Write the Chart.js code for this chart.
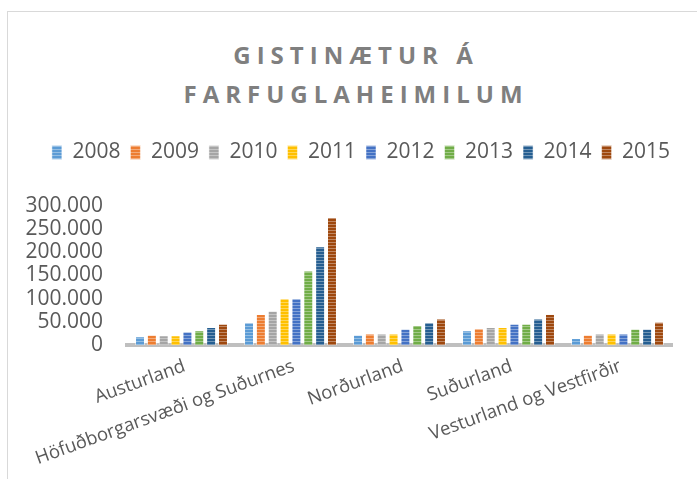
<!DOCTYPE html>
<html>
<head>
<meta charset="utf-8">
<script src="https://cdn.jsdelivr.net/npm/chart.js@4"></script>
<style>
  html, body { margin: 0; padding: 0; background: #fff; }
  #wrap { position: relative; width: 697px; height: 479px; overflow: hidden; }
  #frame { position: absolute; left: 7px; top: 11px; right: -5px; bottom: -5px; border-left: 1px solid #d9d9d9; border-top: 1px solid #d9d9d9; }
  #title { position: absolute; left: 0; width: 712px; top: 35px; text-align: center; font: bold 24px "Open Sans", sans-serif; letter-spacing: 6px; color: #7f7f7f; line-height: 39px; }
  canvas { position: absolute; left: 0; top: 0; }
</style>
</head>
<body>
<div id="wrap">
  <div id="frame"></div>
  <div id="title">GISTINÆTUR Á<br>FARFUGLAHEIMILUM</div>
  <canvas id="chart" width="697" height="479"></canvas>
</div>
<script>
const regions = ['Austurland', 'Höfuðborgarsvæði og Suðurnes', 'Norðurland', 'Suðurland', 'Vesturland og Vestfirðir'];
const years = ['2008', '2009', '2010', '2011', '2012', '2013', '2014', '2015'];

// gistinætur per ár, í sömu röð og regions
const v2008 = [19000, 49000, 22000, 32000, 15000];
const v2009 = [22000, 67000, 25000, 36000, 22000];
const v2010 = [21000, 74000, 25000, 39000, 25000];
const v2011 = [21000, 101000, 25000, 39000, 25000];
const v2012 = [29000, 101000, 35000, 46000, 25000];
const v2013 = [32000, 161000, 43000, 46000, 35000];
const v2014 = [39000, 213000, 49000, 57000, 35000];
const v2015 = [46000, 276000, 57000, 67000, 50000];

const yTicks = [0, 50000, 100000, 150000, 200000, 250000, 300000];

const colors = ['#5b9bd5', '#ed7d31', '#a5a5a5', '#ffc000', '#4472c4', '#70ad47', '#255e91', '#9e480e'];
const values = [v2008, v2009, v2010, v2011, v2012, v2013, v2014, v2015];

// striped fill like the Excel bars
function stripes(color) {
    const c = document.createElement('canvas');
    c.width = 4;
    c.height = 3;
    const g = c.getContext('2d');
    g.fillStyle = color;
    g.fillRect(0, 0, 4, 3);
    g.fillStyle = 'rgba(255,255,255,0.35)';
    g.fillRect(0, 2, 4, 1);
    return g.createPattern(c, 'repeat');
}

function fmt(n) {
    return String(n).replace(/\B(?=(\d{3})+(?!\d))/g, '.');
}

// slanted category labels, right end on the tick
const slantLabels = {
    id: 'slantLabels',
    afterDraw(chart) {
        const x = chart.scales.x;
        const ctx = chart.ctx;
        ctx.save();
        ctx.font = '18.5px "Open Sans", sans-serif';
        ctx.fillStyle = '#595959';
        ctx.textAlign = 'right';
        ctx.textBaseline = 'top';
        regions.forEach((r, i) => {
            ctx.save();
            ctx.translate(x.getPixelForTick(i), x.top + 12);
            ctx.rotate(-20 * Math.PI / 180);
            ctx.fillText(r, 0, 0);
            ctx.restore();
        });
        ctx.restore();
    }
};

// extra room under the legend, and nudge it right like the original
const legendGap = {
    id: 'legendGap',
    beforeInit(chart) {
        const fit = chart.legend.fit;
        chart.legend.fit = function () {
            fit.bind(chart.legend)();
            this.height += 33;
        };
    },
    afterLayout(chart) {
        chart.legend.left += 20;
        chart.legend.right += 20;
    }
};

const chart = document.querySelector('#chart').getContext('2d');

new Chart(chart, {
    type: 'bar',
    data: {
        labels: regions,
        datasets: years.map((y, i) => ({
            label: y,
            data: values[i],
            backgroundColor: stripes(colors[i]),
            borderColor: 'rgba(255,255,255,0.5)',
            borderWidth: 1,
            categoryPercentage: 0.87,
            barPercentage: 0.84
        }))
    },
    options: {
        responsive: false,
        animation: false,
        layout: {
            padding: { top: 132, right: 25, bottom: 126, left: 10 }
        },
        plugins: {
            legend: {
                position: 'top',
                labels: {
                    boxWidth: 10,
                    boxHeight: 14,
                    padding: 10,
                    color: '#595959',
                    font: { size: 21, family: '"Open Sans", sans-serif' }
                }
            },
            tooltip: { enabled: false }
        },
        scales: {
            x: {
                z: 1,
                grid: { display: false },
                border: { color: '#bfbfbf', width: 4 },
                ticks: { display: false }
            },
            y: {
                min: 0,
                max: 300000,
                afterFit(scale) { scale.width = 117; },
                afterBuildTicks(scale) { scale.ticks = yTicks.map(v => ({ value: v })); },
                grid: { display: false, drawTicks: false },
                border: { display: false },
                ticks: {
                    autoSkip: false,
                    padding: 24,
                    color: '#595959',
                    font: { size: 21, family: '"Open Sans", sans-serif' },
                    callback: v => fmt(v)
                }
            }
        }
    },
    plugins: [slantLabels, legendGap]
})
</script>
</body>
</html>
